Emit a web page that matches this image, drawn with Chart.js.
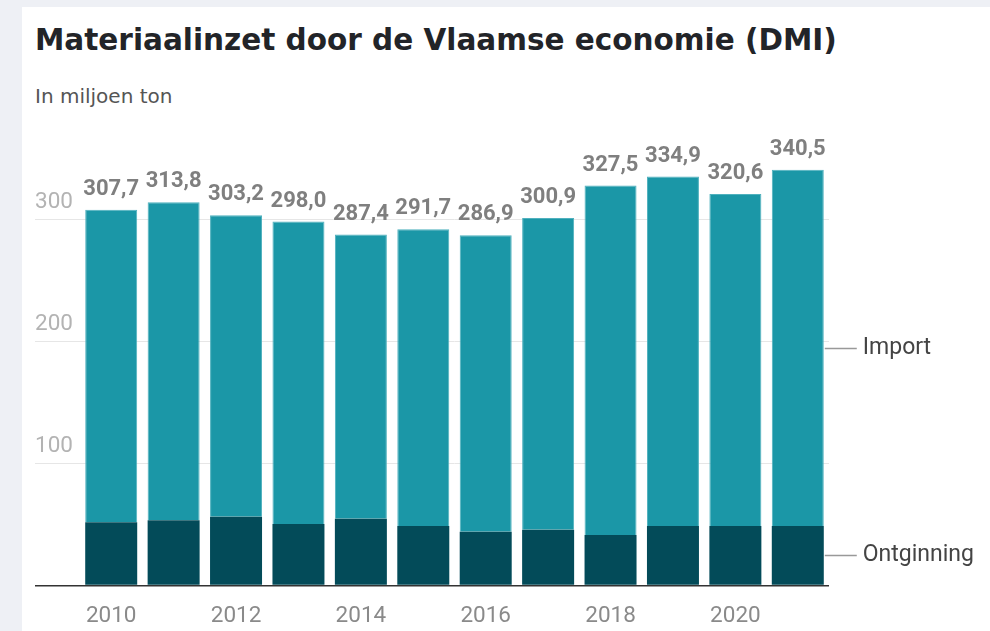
<!DOCTYPE html>
<html>
<head>
<meta charset="utf-8">
<script src="https://cdn.jsdelivr.net/npm/chart.js@4.4.1/dist/chart.umd.min.js"></script>
<style>
  html, body { margin: 0; padding: 0; width: 990px; height: 631px; overflow: hidden; background: #eef0f5; }
  #card { position: absolute; left: 22px; top: 7px; right: 0; bottom: 0; background: #ffffff; }
  #title { position: absolute; left: 35px; top: 26px; font-family: "DejaVu Sans", sans-serif; font-weight: bold; font-size: 29.5px; line-height: 29.5px; color: #222428; white-space: nowrap; }
  #subtitle { position: absolute; left: 35px; top: 86px; font-family: "DejaVu Sans", sans-serif; font-size: 20px; line-height: 20px; color: #555; white-space: nowrap; }
  #c { position: absolute; left: 0; top: 0; }
</style>
</head>
<body>
<div id="card"></div>
<div id="title">Materiaalinzet door de Vlaamse economie (DMI)</div>
<div id="subtitle">In miljoen ton</div>
<canvas id="c" width="990" height="631"></canvas>
<script>
// ---- data ----
const years = ["2010","2011","2012","2013","2014","2015","2016","2017","2018","2019","2020","2021"];
const ontginning = [51.8, 53.4, 56.3, 50.4, 54.7, 48.7, 44.1, 45.7, 41.4, 48.7, 48.7, 48.7];
const importVals = [255.9, 260.4, 246.9, 247.6, 232.7, 243.0, 242.8, 255.2, 286.1, 286.2, 271.9, 291.8];
const totals = ["307,7","313,8","303,2","298,0","287,4","291,7","286,9","300,9","327,5","334,9","320,6","340,5"];
const yTicks = [0, 100, 200, 300];
const seriesNames = ["Ontginning", "Import"];

const valueLabels = {
  id: 'valueLabels',
  afterDatasetsDraw(chart) {
    const ctx = chart.ctx;
    const topMeta = chart.getDatasetMeta(1);
    ctx.save();
    ctx.font = 'bold 22px Roboto';
    ctx.fillStyle = '#7f7f7f';
    ctx.textAlign = 'center';
    ctx.textBaseline = 'alphabetic';
    topMeta.data.forEach((bar, i) => {
      ctx.fillText(totals[i], bar.x, bar.y - 15);
    });
    ctx.restore();
  }
};

const seriesLabels = {
  id: 'seriesLabels',
  afterDatasetsDraw(chart) {
    const ctx = chart.ctx;
    ctx.save();
    ctx.font = '23px Roboto';
    ctx.fillStyle = '#444';
    ctx.textAlign = 'left';
    ctx.textBaseline = 'middle';
    ctx.strokeStyle = '#999';
    ctx.lineWidth = 1.5;
    [0, 1].forEach(d => {
      const meta = chart.getDatasetMeta(d);
      const bar = meta.data[meta.data.length - 1];
      const ym = Math.round((bar.y + bar.base) / 2) + 0.5;
      const xr = bar.x + bar.width / 2;
      ctx.beginPath();
      ctx.moveTo(xr + 1, ym);
      ctx.lineTo(xr + 33, ym);
      ctx.stroke();
      ctx.fillText(seriesNames[d], xr + 39, ym);
    });
    ctx.restore();
  }
};

new Chart(document.getElementById('c'), {
  type: 'bar',
  data: {
    labels: years,
    datasets: [
      { label: seriesNames[0], data: ontginning, backgroundColor: '#034b59', borderWidth: 0,
        categoryPercentage: 1, barPercentage: 0.833 },
      { label: seriesNames[1], data: importVals, backgroundColor: '#1b97a7', borderColor: '#4fb1be', borderWidth: {top: 1, left: 1, right: 1, bottom: 0}, borderSkipped: false,
        categoryPercentage: 1, barPercentage: 0.833 }
    ]
  },
  options: {
    responsive: false,
    animation: false,
    layout: { padding: { left: 35, right: 161, top: 130, bottom: 0 } },
    plugins: { legend: { display: false }, tooltip: { enabled: false }, title: { display: false } },
    scales: {
      x: {
        stacked: true,
        grid: { display: false },
        border: { display: false },
        ticks: {
          autoSkip: false, maxRotation: 0, padding: 9,
          font: { family: 'Roboto', size: 22.5 }, color: '#8a8a8a',
          callback: function(v, i) { return i % 2 === 0 ? years[i] : ''; }
        },
        afterFit: s => { s.height = 45.5; }
      },
      y: {
        stacked: true,
        min: 0, max: 373,
        afterBuildTicks: s => { s.ticks = yTicks.map(v => ({ value: v })); },
        afterFit: s => { s.width = 45; },
        border: { display: false },
        grid: {
          drawTicks: true, tickLength: 45,
          color: c => (c.tick && c.tick.value === 0) ? '#333' : '#e6e6e6',
          lineWidth: c => (c.tick && c.tick.value === 0) ? 1.5 : 1
        },
        ticks: {
          crossAlign: 'far', labelOffset: -17, padding: 0,
          font: { family: 'Roboto', size: 22.5 }, color: '#b3b3b3',
          callback: v => v === 0 ? '' : String(v)
        }
      }
    }
  },
  plugins: [valueLabels, seriesLabels]
});
</script>
</body>
</html>
